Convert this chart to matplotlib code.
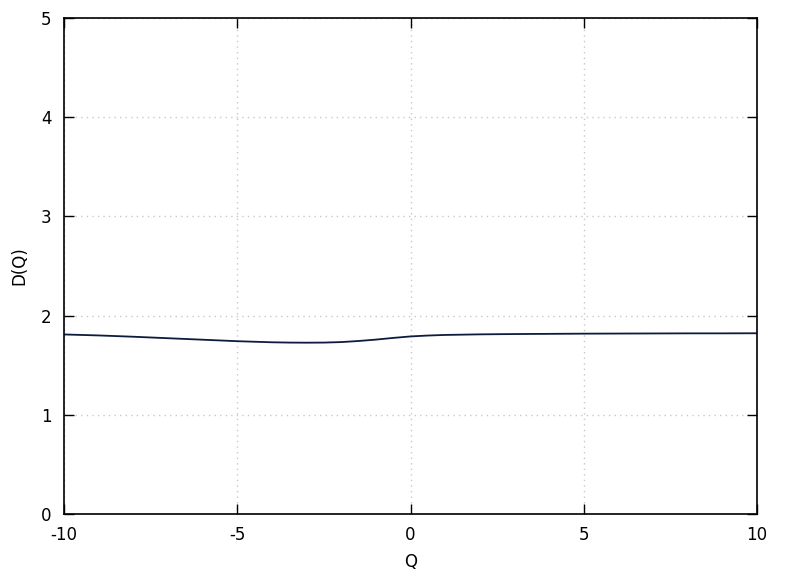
import matplotlib
matplotlib.use("Agg")
import matplotlib.pyplot as plt
import numpy as np

q_values = [-10, -9, -8, -7, -6, -5, -4, -3.5, -3, -2.5, -2, -1.5, -1, -0.5, 0, 0.5, 1, 2, 3, 4, 5, 6, 7, 8, 9, 10]
d_values = [1.81, 1.80, 1.787, 1.772, 1.757, 1.742, 1.731, 1.728, 1.727, 1.728, 1.733, 1.744, 1.758, 1.775, 1.790, 1.799, 1.805, 1.811, 1.814, 1.816, 1.818, 1.819, 1.820, 1.821, 1.821, 1.822]
x_ticks = [-10, -5, 0, 5, 10]
y_ticks = [0, 1, 2, 3, 4, 5]

fig = plt.figure(figsize=(7.88, 5.76), dpi=100)
ax = fig.add_axes([64/788, 62/576, (757-64)/788, (514-18)/576])

ax.plot(q_values, d_values, color="#0d1b3e", lw=1.3)

ax.set_xlim(-10, 10)
ax.set_ylim(0, 5)
ax.set_xticks(x_ticks)
ax.set_yticks(y_ticks)
ax.set_xticklabels([str(v) for v in x_ticks])
ax.set_yticklabels([str(v) for v in y_ticks])
ax.tick_params(direction="in", length=7, width=1, top=True, right=True, labelsize=12, pad=9)
for s in ax.spines.values():
    s.set_linewidth(1.2)
ax.grid(True, linestyle=(0, (1, 3)), color="#c8c8c8", lw=1)
ax.set_xlabel("Q", fontsize=12, labelpad=6)
ax.set_ylabel("D(Q)", fontsize=12, labelpad=9)

fig.savefig("out.png", dpi=100)
